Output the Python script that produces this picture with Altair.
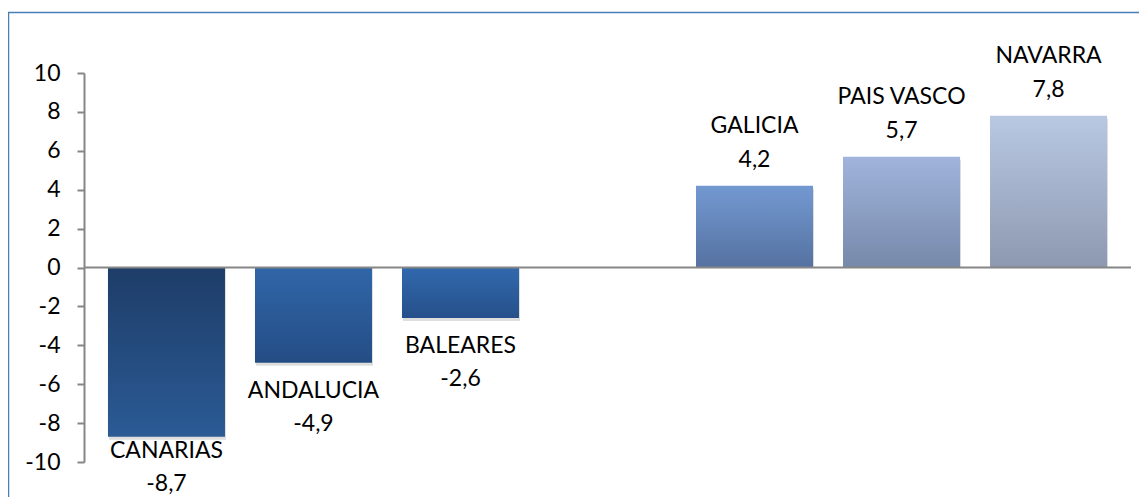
import altair as alt
import pandas as pd

# ---- data ----
regions = ["CANARIAS", "ANDALUCIA", "BALEARES", " ", "GALICIA", "PAIS VASCO", "NAVARRA"]
values = [-8.7, -4.9, -2.6, None, 4.2, 5.7, 7.8]
y_ticks = [-10, -8, -6, -4, -2, 0, 2, 4, 6, 8, 10]

# ---- styles ----
gradients = {
    "CANARIAS": ("#1e3d68", "#2b5a95"),
    "ANDALUCIA": ("#3066a8", "#244d85"),
    "BALEARES": ("#3169ad", "#26508a"),
    "GALICIA": ("#7399d1", "#5571a1"),
    "PAIS VASCO": ("#a0b4dc", "#7789aa"),
    "NAVARRA": ("#b9c8e3", "#8d99b0"),
}
FONT = "Lato"
FS = 23
W, H = 1047, 389

df = pd.DataFrame({"region": regions, "value": values})
bars_df = df.dropna()

x_enc = alt.X(
    "region:N",
    sort=regions,
    scale=alt.Scale(domain=regions, paddingInner=0.204, paddingOuter=0.163),
    axis=None,
)
y_scale = alt.Scale(domain=[-10, 10], nice=False, zero=False)
y_axis = alt.Axis(
    values=y_ticks,
    grid=False,
    title=None,
    domainColor="#868686",
    domainWidth=2,
    tickColor="#868686",
    tickWidth=2,
    tickSize=7,
    labelFont=FONT,
    labelFontSize=FS,
    labelColor="#000000",
    labelPadding=17,
    labelOverlap=False,
    labelBound=False,
    labelExpr="toString(datum.value)",
)

def yenc(field):
    return alt.Y(f"{field}:Q", scale=y_scale, axis=y_axis)

base = alt.Chart(bars_df)

shadow = base.mark_bar(color="#000000", opacity=0.13, yOffset=3, xOffset=1).encode(
    x=x_enc, y=yenc("value"), y2=alt.datum(0)
)

bar_layers = []
for name, (top, bottom) in gradients.items():
    bar_layers.append(
        base.transform_filter(alt.datum.region == name)
        .mark_bar(
            color=alt.Gradient(
                gradient="linear",
                stops=[
                    alt.GradientStop(color=top, offset=0),
                    alt.GradientStop(color=bottom, offset=1),
                ],
                x1=0, x2=0, y1=0, y2=1,
            )
        )
        .encode(x=x_enc, y=yenc("value"), y2=alt.datum(0))
    )

zero_line = alt.Chart(pd.DataFrame({"z": [0]})).mark_rule(
    color="#868686", strokeWidth=2
).encode(y=yenc("z"))

lab = base.transform_calculate(
    txt="replace(toString(datum.value), '.', ',')",
    anchor="datum.value > 0 ? datum.value : max(datum.value, -8.0)",
)
pos = lab.transform_filter(alt.datum.value > 0)
neg = lab.transform_filter(alt.datum.value < 0)

def text_layer(src, field, dy):
    return src.mark_text(
        font=FONT, fontSize=FS, color="#000000", baseline="middle", align="center", dy=dy
    ).encode(x=x_enc, y=yenc("anchor"), text=f"{field}:N")

texts = [
    text_layer(pos, "region", -60),
    text_layer(pos, "txt", -26),
    text_layer(neg, "region", 28),
    text_layer(neg, "txt", 61),
]

border = alt.Chart(pd.DataFrame({"a": [0]})).mark_rect(
    fill="transparent", stroke="#4a7ebb", strokeWidth=1.5
).encode(
    x=alt.value(-75.5), x2=alt.value(W + 300), y=alt.value(-60.5), y2=alt.value(H + 300)
)

chart = alt.layer(shadow, *bar_layers, zero_line, *texts, border).properties(
    width=W,
    height=H,
    autosize=alt.AutoSizeParams(type="none"),
    padding={"left": 76, "top": 65, "right": 8, "bottom": 43},
).configure_view(stroke=None).configure_axisY(labelOverlap=False)

chart.save("out.html", embed_options={"renderer": "svg", "actions": False})
